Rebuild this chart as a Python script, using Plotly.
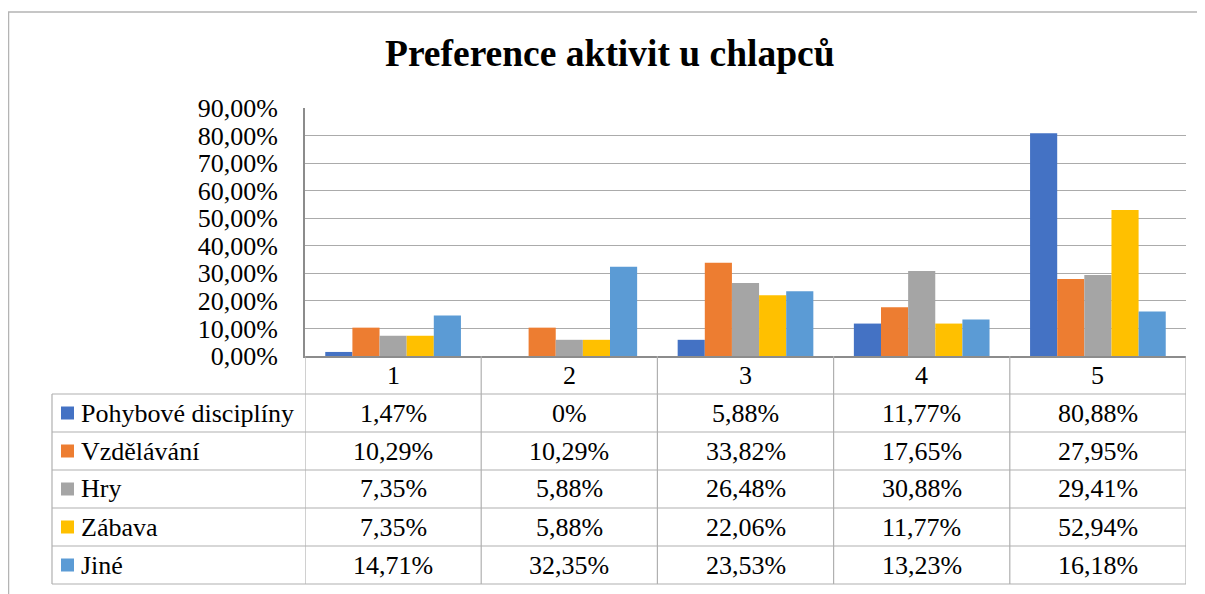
import plotly.graph_objects as go

# ---------------- data ----------------
categories = ["1", "2", "3", "4", "5"]
series_names = ["Pohybové disciplíny", "Vzdělávání", "Hry", "Zábava", "Jiné"]
pohybove = [1.47, 0, 5.88, 11.77, 80.88]
vzdelavani = [10.29, 10.29, 33.82, 17.65, 27.95]
hry = [7.35, 5.88, 26.48, 30.88, 29.41]
zabava = [7.35, 5.88, 22.06, 11.77, 52.94]
jine = [14.71, 32.35, 23.53, 13.23, 16.18]
y_ticks = [0, 10, 20, 30, 40, 50, 60, 70, 80, 90]
title_text = "Preference aktivit u chlapců"

series_values = [pohybove, vzdelavani, hry, zabava, jine]
colors = ["#4472C4", "#ED7D31", "#A5A5A5", "#FFC000", "#5B9BD5"]

FONT = "Liberation Serif"
GRID = "#ABABAB"
TABLE = "#B0B0B0"
AXIS = "#8C8C8C"

# the page body adds an 8px offset; work in screen pixels
OFF = 8
W, H = 1205 - OFF, 594 - OFF
L, R, T, B = 305, 1186, 108, 356   # plot area in screen pixels


def px(x):
    return (x - L) / (R - L)


def py(y):
    return (B - y) / (B - T)


def fmt(v, zero_plain=True):
    if v == 0 and zero_plain:
        return "0%"
    return f"{v:.2f}".replace(".", ",") + "%"


fig = go.Figure()
for name, vals, col in zip(series_names, series_values, colors):
    fig.add_trace(go.Bar(x=categories, y=vals, name=name,
                         marker=dict(color=col, line=dict(width=0))))

shapes = []
annotations = []

# outer chart border
shapes.append(dict(type="rect", xref="paper", yref="paper",
                   x0=px(8.5), x1=px(1230), y0=py(620), y1=py(12),
                   line=dict(color="#B4B4B4", width=1.5)))

# data table geometry
row_h = 38
header_top = B
table_bottom = B + row_h * 6
label_left = 52

for i in range(1, 7):
    yy = B + row_h * i
    shapes.append(dict(type="line", xref="paper", yref="paper",
                       x0=px(label_left), x1=px(R), y0=py(yy), y1=py(yy),
                       line=dict(color=TABLE, width=1.2)))
for k in range(len(categories) + 1):
    shapes.append(dict(type="line", xref="x", yref="paper",
                       x0=k - 0.5, x1=k - 0.5, y0=py(header_top), y1=py(table_bottom),
                       line=dict(color=TABLE, width=1.2)))
shapes.append(dict(type="line", xref="paper", yref="paper",
                   x0=px(label_left), x1=px(label_left), y0=py(B + row_h), y1=py(table_bottom),
                   line=dict(color=TABLE, width=1.2)))

# header row
for k, c in enumerate(categories):
    annotations.append(dict(x=k, y=py(B + row_h / 2), xref="x", yref="paper",
                            text=c, showarrow=False, xanchor="center", yanchor="middle",
                            font=dict(family=FONT, size=26, color="black")))

# data rows
for r_i, (name, vals, col) in enumerate(zip(series_names, series_values, colors)):
    yc = B + row_h * (r_i + 1) + row_h / 2
    shapes.append(dict(type="rect", xref="paper", yref="paper",
                       x0=px(61), x1=px(74), y0=py(yc + 6.5), y1=py(yc - 6.5),
                       fillcolor=col, line=dict(width=0)))
    annotations.append(dict(x=px(79), y=py(yc), xref="paper", yref="paper",
                            text=name, showarrow=False, xanchor="left", yanchor="middle",
                            font=dict(family=FONT, size=26, color="black")))
    for k, v in enumerate(vals):
        annotations.append(dict(x=k, y=py(yc), xref="x", yref="paper",
                                text=fmt(v), showarrow=False, xanchor="center", yanchor="middle",
                                font=dict(family=FONT, size=26, color="black")))

# title
annotations.append(dict(x=px(610), y=py(54), xref="paper", yref="paper",
                        text="<b>" + title_text + "</b>", showarrow=False,
                        xanchor="center", yanchor="middle",
                        font=dict(family=FONT, size=37.5, color="black")))

fig.update_layout(
    width=W, height=H,
    margin=dict(l=L - OFF, r=(W + OFF) - R, t=T - OFF, b=(H + OFF) - B, pad=0),
    paper_bgcolor="white", plot_bgcolor="white",
    barmode="group", bargap=0.23, bargroupgap=0,
    showlegend=False,
    font=dict(family=FONT, size=26, color="black"),
    shapes=shapes, annotations=annotations,
)
fig.update_xaxes(type="category", range=[-0.5, 4.5], showticklabels=False,
                 showgrid=False, zeroline=False, showline=True,
                 linecolor=AXIS, linewidth=2, ticks="")
fig.update_yaxes(range=[0, 90], tickvals=y_ticks,
                 ticktext=[fmt(t, zero_plain=False) for t in y_ticks],
                 showgrid=True, gridcolor=GRID, gridwidth=1, zeroline=False,
                 showline=True, linecolor=AXIS, linewidth=2, ticks="",
                 ticklabelstandoff=20,
                 tickfont=dict(family=FONT, size=26, color="black"))

fig.write_html("out.html")
